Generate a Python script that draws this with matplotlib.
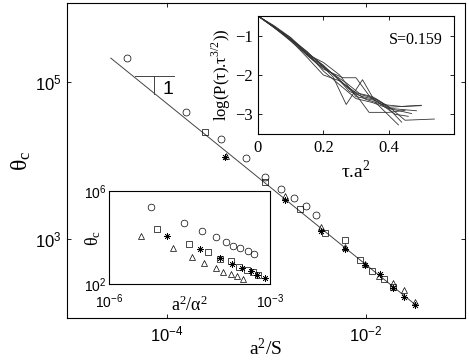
import numpy as np
import matplotlib
matplotlib.use("Agg")
import matplotlib.pyplot as plt
from matplotlib.ticker import NullLocator, LogFormatterSciNotation

# theta_c for the four data sets (log10 values)
theta_circ = [5.30, 4.61, 4.27, 4.03, 3.79, 3.64, 3.53, 3.42, 3.31]
theta_sq = [4.36, 3.73, 3.39, 3.08, 2.99, 2.74, 2.60, 2.50, 2.39]
theta_tri = [4.06, 3.55, 3.16, 2.90, 2.69, 2.53, 2.44, 2.35, 2.20]
theta_ast = [4.05, 3.50, 3.10, 2.87, 2.67, 2.56, 2.38, 2.27, 2.17]

# a^2/S (main plot), log10
xs_circ = [-4.40, -3.80, -3.45, -3.20, -3.01, -2.85, -2.72, -2.60, -2.50]
xs_sq = [-3.61, -3.01, -2.66, -2.41, -2.21, -2.06, -1.93, -1.81, -1.72]
xs_tri = [-3.40, -2.81, -2.45, -2.21, -2.01, -1.86, -1.72, -1.61, -1.50]
xs_ast = [-3.41, -2.81, -2.45, -2.21, -2.01, -1.85, -1.72, -1.61, -1.50]

# a^2/alpha^2 (lower inset), log10
xa_circ = [-5.22, -4.60, -4.27, -4.01, -3.82, -3.69, -3.56, -3.41, -3.30]
xa_sq = [-5.11, -4.51, -4.16, -3.93, -3.73, -3.58, -3.43, -3.32, -3.23]
xa_tri = [-5.40, -4.81, -4.45, -4.23, -4.01, -3.88, -3.73, -3.62, -3.50]
xa_ast = [-4.92, -4.31, -3.93, -3.71, -3.52, -3.36, -3.24, -3.09]

# slope -1 fit line and slope marker
fit_x = [-4.56, -1.50]
fit_y = [5.30, 2.17]
tri_h_x = [-4.32, -3.92]
tri_y = [5.074, 4.84]
tri_v_x = -4.13

# upper inset: log(P(tau).tau^(3/2)) vs tau.a^2
curves = [
    ([0, 0.04, 0.08, 0.12, 0.16, 0.20, 0.24, 0.28, 0.32, 0.36, 0.40, 0.50],
     [-0.5, -0.72, -0.97, -1.25, -1.55, -1.78, -2.05, -2.42, -2.55, -2.62, -2.82, -2.77]),
    ([0, 0.045, 0.09, 0.135, 0.18, 0.225, 0.27, 0.315, 0.36, 0.405, 0.485],
     [-0.5, -0.76, -1.02, -1.33, -1.62, -1.95, -2.20, -2.50, -2.60, -2.85, -2.91]),
    ([0, 0.05, 0.10, 0.15, 0.20, 0.25, 0.30, 0.35, 0.40, 0.45, 0.54],
     [-0.5, -0.80, -1.10, -1.45, -1.75, -2.15, -2.45, -2.55, -2.80, -3.15, -3.12]),
    ([0, 0.05, 0.10, 0.15, 0.19, 0.23, 0.27, 0.32, 0.36, 0.43],
     [-0.5, -0.78, -1.08, -1.40, -1.72, -2.05, -2.75, -2.12, -2.70, -3.27]),
    ([0, 0.05, 0.10, 0.15, 0.20, 0.26, 0.30, 0.345, 0.40, 0.47],
     [-0.5, -0.75, -1.05, -1.50, -1.85, -2.07, -2.07, -2.58, -2.85, -2.98]),
    ([0, 0.05, 0.10, 0.15, 0.20, 0.25, 0.30, 0.34, 0.40, 0.45],
     [-0.5, -0.80, -1.12, -1.55, -2.00, -2.15, -2.50, -2.95, -2.95, -2.90]),
    ([0, 0.05, 0.10, 0.15, 0.20, 0.25, 0.30, 0.35, 0.40, 0.44],
     [-0.5, -0.77, -1.05, -1.42, -1.90, -2.25, -2.60, -2.70, -2.85, -3.20]),
    ([0, 0.05, 0.10, 0.15, 0.20, 0.25, 0.30, 0.36, 0.42, 0.46],
     [-0.5, -0.78, -1.10, -1.47, -1.68, -2.00, -2.55, -2.65, -3.00, -3.05]),
    ([0, 0.04, 0.08, 0.13, 0.18, 0.23, 0.28, 0.33, 0.38, 0.44, 0.50],
     [-0.5, -0.73, -1.00, -1.35, -1.70, -1.98, -2.35, -2.62, -2.75, -2.80, -2.78]),
]

SANS = "Liberation Sans"
SERIF = "Liberation Serif"
AST = (8, 2, 0)

fig = plt.figure(figsize=(4.69, 3.60), dpi=100)


def style_axes(ax, fam, size):
    ax.tick_params(which="both", direction="in", top=True, right=True,
                   length=3, width=0.6, labelsize=size, pad=4)
    for lab in ax.get_xticklabels() + ax.get_yticklabels():
        lab.set_fontfamily(fam)
    for sp in ax.spines.values():
        sp.set_linewidth(0.8)


def scatter_sets(ax, sets, ms):
    for xs, ys, mk in sets:
        n = len(xs)
        ax.plot(10 ** np.array(xs), 10 ** np.array(ys[:n]), linestyle="none",
                marker=mk, ms=ms, mfc="none", mec="black", mew=0.5)


# main axes
ax = fig.add_axes([0.1429, 0.1167, 0.8486, 0.875])
ax.set_xscale("log")
ax.set_yscale("log")
ax.set_xlim(1e-5, 1e-1)
ax.set_ylim(1e2, 1e6)
ax.plot(10 ** np.array(fit_x), 10 ** np.array(fit_y), color="#444444", lw=0.7)
ax.plot(10 ** np.array(tri_h_x), [10 ** tri_y[0]] * 2, color="#444444", lw=0.7)
ax.plot([10 ** tri_v_x] * 2, 10 ** np.array(tri_y), color="#444444", lw=0.7)
ax.text(10 ** -3.99, 10 ** 4.90, "1", fontsize=14, family=SANS,
        ha="center", va="center")
scatter_sets(ax, [(xs_circ, theta_circ, "o"), (xs_sq, theta_sq, "s"),
                  (xs_tri, theta_tri, "^"), (xs_ast, theta_ast, AST)], 5)
ax.set_xticks([1e-4, 1e-2])
ax.set_yticks([1e3, 1e5])
for a in (ax.xaxis, ax.yaxis):
    a.set_minor_locator(NullLocator())
    a.set_major_formatter(LogFormatterSciNotation())
style_axes(ax, SANS, 12)
ax.tick_params(axis="x", pad=5)
ax.set_xlabel(r"$\mathdefault{a^2/S}$", family=SERIF, fontsize=14, labelpad=-5)
ax.set_ylabel(r"$\mathdefault{θ_c}$", family=SERIF, fontsize=17, labelpad=1)

# upper inset
ai = fig.add_axes([0.5501, 0.6278, 0.4179, 0.3278])
for cx, cy in curves:
    ai.plot(cx, cy, color="#333333", lw=0.6)
ai.set_xlim(0, 0.6)
ai.set_ylim(-3.5, -0.5)
ai.set_xticks([0, 0.2, 0.4])
ai.set_yticks([-3, -2, -1])
ai.set_xticklabels(["0", "0.2", "0.4"])
ai.set_yticklabels(["\u22123", "\u22122", "\u22121"])
style_axes(ai, SERIF, 12)
ai.text(0.40, -1.1, "S=0.159", family=SERIF, fontsize=11.5, ha="left", va="center")
ai.set_xlabel(r"τ.a$^{\mathdefault{2}}$", family=SERIF, fontsize=14, labelpad=3)
ai.set_ylabel(r"log(P(τ).τ$^{\mathdefault{3/2}}$))", family=SERIF, fontsize=12,
              labelpad=1)

# lower inset
al = fig.add_axes([0.2324, 0.2111, 0.3433, 0.2583])
al.set_xscale("log")
al.set_yscale("log")
al.set_xlim(1e-6, 1e-3)
al.set_ylim(1e2, 1e6)
scatter_sets(al, [(xa_circ, theta_circ, "o"), (xa_sq, theta_sq, "s"),
                  (xa_tri, theta_tri, "^"), (xa_ast, theta_ast, AST)], 4.8)
al.set_xticks([1e-6, 1e-3])
al.set_yticks([1e2, 1e6])
for a in (al.xaxis, al.yaxis):
    a.set_minor_locator(NullLocator())
    a.set_major_formatter(LogFormatterSciNotation())
style_axes(al, SANS, 10)
al.tick_params(length=0)
al.tick_params(axis="x", pad=6)
al.tick_params(axis="y", pad=2)
al.set_xlabel(r"$\mathdefault{a^2/α^2}$", family=SERIF, fontsize=13, labelpad=-11)
al.set_ylabel(r"$\mathdefault{θ_c}$", family=SERIF, fontsize=13, labelpad=-14)

fig.savefig("out.png", dpi=100)
